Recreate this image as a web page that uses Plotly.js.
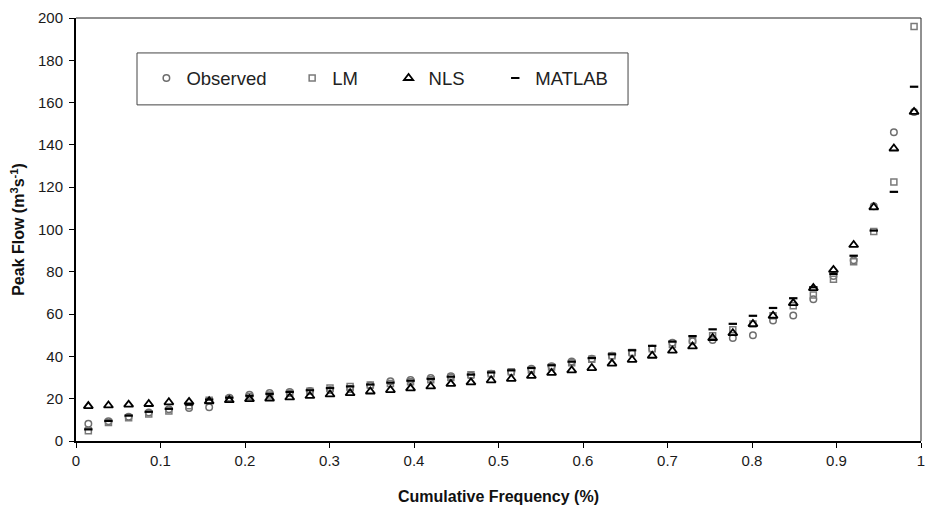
<!DOCTYPE html>
<html>
<head>
<meta charset="utf-8">
<script src="https://cdn.plot.ly/plotly-3.0.1.min.js"></script>
<style>html,body{margin:0;padding:0;background:#fff;}#chart{width:929px;height:510px;}</style>
</head>
<body>
<div id="chart"></div>
<script>
const freq = [0.0146, 0.0384, 0.0623, 0.0861, 0.1099, 0.1338, 0.1576, 0.1814, 0.2053, 0.2291,
  0.2529, 0.2768, 0.3006, 0.3244, 0.3483, 0.3721, 0.3959, 0.4198, 0.4436, 0.4674,
  0.4913, 0.5151, 0.5389, 0.5628, 0.5866, 0.6104, 0.6343, 0.6581, 0.6819, 0.7058,
  0.7296, 0.7534, 0.7773, 0.8011, 0.8249, 0.8488, 0.8726, 0.8964, 0.9203, 0.9441,
  0.9679, 0.9918];
const observed = [8.1, 9.3, 11.5, 13.5, 15.0, 15.6, 15.9, 20.5, 21.9, 22.7,
  23.2, 23.6, 24.1, 24.6, 26.3, 28.2, 28.8, 29.8, 30.6, 31.0,
  31.8, 32.6, 34.2, 35.3, 37.6, 38.9, 40.3, 41.5, 43.6, 46.5,
  47.2, 47.8, 48.7, 50.0, 57.0, 59.3, 67.0, 78.0, 85.5, 111.0,
  146.0, 155.5];
const lm = [4.8, 8.8, 11.0, 12.8, 14.2, 16.7, 19.3, 20.0, 21.0, 21.8,
  22.6, 23.5, 25.1, 25.8, 26.5, 27.2, 28.0, 29.0, 30.0, 31.3,
  31.8, 32.7, 33.6, 35.0, 37.0, 38.6, 40.3, 41.9, 43.6, 45.6,
  47.6, 49.8, 52.6, 55.3, 59.2, 63.9, 69.0, 76.5, 84.8, 99.0,
  122.5, 196.0];
const nls = [16.5, 16.8, 17.2, 17.5, 18.3, 18.5, 18.8, 19.3, 19.8, 20.1,
  20.6, 21.3, 22.0, 22.6, 23.4, 24.1, 24.9, 25.8, 27.0, 27.7,
  28.7, 29.4, 30.8, 32.2, 33.4, 34.5, 36.6, 38.4, 40.3, 42.7,
  44.7, 48.7, 51.0, 55.3, 59.2, 65.2, 72.3, 80.9, 92.7, 110.5,
  138.3, 155.6];
const matlab = [5.5, 9.5, 12.0, 13.8, 15.2, 17.2, 19.6, 20.5, 21.4, 22.3,
  23.2, 24.0, 25.0, 25.8, 26.7, 27.6, 28.5, 29.4, 30.4, 31.4,
  32.4, 33.4, 34.5, 35.8, 37.5, 39.2, 41.0, 42.9, 45.0, 47.0,
  49.6, 52.8, 55.4, 59.2, 62.9, 67.5, 72.7, 79.0, 87.6, 99.5,
  117.8, 167.5];
const seriesNames = ['Observed', 'LM', 'NLS', 'MATLAB'];
const xTicks = [0, 0.1, 0.2, 0.3, 0.4, 0.5, 0.6, 0.7, 0.8, 0.9, 1];
const xTickText = ['0', '0.1', '0.2', '0.3', '0.4', '0.5', '0.6', '0.7', '0.8', '0.9', '1'];

const FONT = 'Arial, "Liberation Sans", sans-serif';
const NB = '\u00a0';
const traces = [
  {x: freq, y: observed, name: seriesNames[0] + NB.repeat(4), type: 'scatter', mode: 'markers',
   marker: {symbol: 'circle-open', size: 6.5, color: '#6e6e6e', line: {width: 1.5, color: '#6e6e6e'}}},
  {x: freq, y: lm, name: seriesNames[1] + NB.repeat(5), type: 'scatter', mode: 'markers',
   marker: {symbol: 'square-open', size: 6, color: '#7a7a7a', line: {width: 1.5, color: '#7a7a7a'}}},
  {x: freq, y: nls, name: seriesNames[2] + NB.repeat(5), type: 'scatter', mode: 'markers',
   marker: {symbol: 'triangle-up-open', size: 8, color: '#000', line: {width: 1.8, color: '#000'}}},
  {x: freq, y: matlab, name: seriesNames[3], type: 'scatter', mode: 'markers',
   marker: {symbol: 'line-ew', size: 6, color: '#000', line: {width: 2.2, color: '#000'}}}
];

const layout = {
  width: 929, height: 510,
  margin: {l: 76, r: 8, t: 18, b: 68.5},
  paper_bgcolor: '#fff', plot_bgcolor: '#fff',
  font: {family: FONT, size: 15, color: '#222'},
  showlegend: true,
  legend: {orientation: 'h', x: 0.0833, y: 0.857, xanchor: 'left', yanchor: 'middle',
    bgcolor: 'rgba(0,0,0,0)', borderwidth: 0, itemwidth: 30,
    font: {family: FONT, size: 18.5, color: '#222'}},
  xaxis: {range: [0, 1], tickvals: xTicks, ticktext: xTickText, ticks: 'outside', ticklen: 5,
    tickwidth: 1, tickcolor: '#000', showgrid: false, zeroline: false,
    tickfont: {family: FONT, size: 15, color: '#1a1a1a'},
    showline: true, linecolor: '#000', linewidth: 2,
    title: {text: 'Cumulative Frequency (%)', font: {family: FONT, size: 16, color: '#111', weight: 'bold'}, standoff: 23}},
  yaxis: {range: [0, 200], dtick: 20, ticks: 'outside', ticklen: 5, tickwidth: 1, tickcolor: '#000',
    tickfont: {family: FONT, size: 15, color: '#1a1a1a'}, ticklabelstandoff: 3,
    showgrid: false, zeroline: false, showline: true, linecolor: '#000', linewidth: 2,
    title: {text: 'Peak Flow (m<sup>3</sup>s<sup>-1</sup>)', font: {family: FONT, size: 16, color: '#111', weight: 'bold'}, standoff: 9}},
  shapes: [
    {type: 'line', xref: 'paper', yref: 'paper', x0: 0, x1: 1, y0: 1, y1: 1, line: {color: '#222', width: 1}},
    {type: 'line', xref: 'paper', yref: 'paper', x0: 1, x1: 1, y0: 0, y1: 1, line: {color: '#222', width: 1}},
    {type: 'rect', xref: 'paper', yref: 'paper', x0: 0.0722, x1: 0.6533, y0: 0.7946, y1: 0.9174,
     line: {color: '#444', width: 1}, fillcolor: 'rgba(0,0,0,0)'}
  ]
};

Plotly.newPlot('chart', traces, layout, {displayModeBar: false, staticPlot: true});
</script>
</body>
</html>
